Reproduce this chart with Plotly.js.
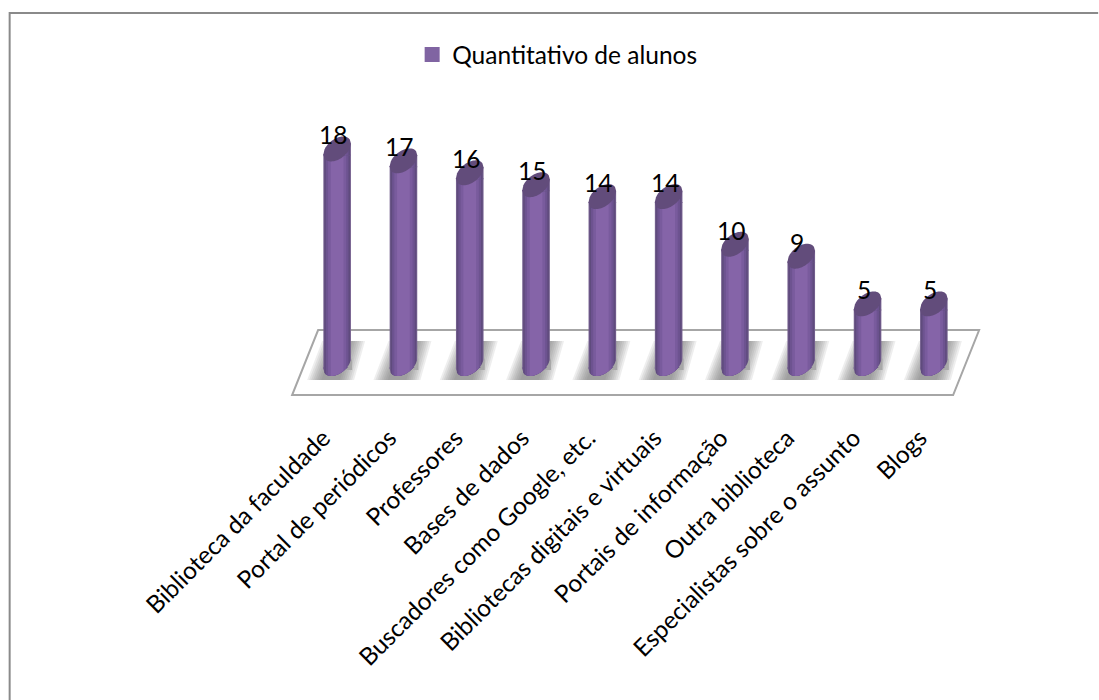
<!DOCTYPE html>
<html>
<head>
<meta charset="utf-8">
<script src="https://cdn.plot.ly/plotly-3.0.1.min.js"></script>
<style>html,body{margin:0;padding:0;background:#fff}</style>
</head>
<body>
<div id="chart" style="width:1099px;height:700px"></div>
<script>
const categories = ["Biblioteca da faculdade","Portal de periódicos","Professores","Bases de dados","Buscadores como Google, etc.","Bibliotecas digitais e virtuais","Portais de informação","Outra biblioteca","Especialistas sobre o assunto","Blogs"];
const values = [18,17,16,15,14,14,10,9,5,5];
const seriesName = "Quantitativo de alunos";
const barColor = "#8064a2";
const capColor = "#624c7b";
const stripWidths = [1.0,0.93,0.82,0.66,0.46];
const stripColors = ["#75608f","#5f4b7d","#6d5390","#795b9d","#8564a8"];

const L=303.85, W=663, T=100, H=318;
const pxPerX=W/10, pxPerY=11.92;
const zeroPx=369;
const yMin=-(T+H-zeroPx)/pxPerY, yMax=(zeroPx-T)/pxPerY;
const halfBar=13.8, capB=11.2, capK=5.5;
const dx=p=>p/pxPerX, dy=p=>p/pxPerY;
const paperX=p=>(p-L)/W, paperY=p=>1-(p-T)/H;
const poly=pts=>"M"+pts.map(p=>p[0].toFixed(4)+" "+p[1].toFixed(4)).join("L")+"Z";
const polyPaper=pts=>poly(pts.map(p=>[paperX(p[0]),paperY(p[1])]));
const lowerOff=x=>-capK*x/halfBar+capB*Math.sqrt(Math.max(0,1-(x/halfBar)*(x/halfBar)));
const upperOff=x=>-capK*x/halfBar-capB*Math.sqrt(Math.max(0,1-(x/halfBar)*(x/halfBar)));
const samples=n=>Array.from({length:n+1},(_,i)=>-1+2*i/n);

const shapes=[];
// floor
shapes.push({type:"path",xref:"paper",yref:"paper",layer:"below",path:polyPaper([[318,330],[979,330],[953,395],[292,395]]),fillcolor:"#ffffff",line:{color:"#a6a6a6",width:2}});
// floor shadows
const shadowInsets=[0,2,4,6,8,10,12,14];
categories.forEach((c,i)=>{
  const cx=337+i*pxPerX;
  shadowInsets.forEach(ins=>{
    shapes.push({type:"path",xref:"paper",yref:"paper",layer:"below",opacity:0.115,
      path:polyPaper([[cx-30+ins,380],[cx+17-ins,380],[cx+28-ins,341],[cx-15+ins,341]]),
      fillcolor:"#666666",line:{width:0}});
  });
});
// frame
shapes.push({type:"line",xref:"paper",yref:"paper",x0:paperX(9.5),x1:paperX(9.5),y0:paperY(12),y1:paperY(700),line:{color:"#8a8a8a",width:2}});
shapes.push({type:"line",xref:"paper",yref:"paper",x0:paperX(9),x1:paperX(1098),y0:paperY(13),y1:paperY(13),line:{color:"#8a8a8a",width:2}});

values.forEach((v,i)=>{
  // bottom-right corner mask
  const xs0=[];
  for(let x=6;x<=halfBar;x+=0.8){xs0.push(x);}
  const corner=xs0.filter(x=>lowerOff(x)<capK).map(x=>[x,lowerOff(x)]);
  if(corner.length){
    const first=corner[0][0];
    const pts=corner.concat([[halfBar+1.2,lowerOff(halfBar)],[halfBar+1.2,capK+1],[first,capK+1]]);
    shapes.push({type:"path",xref:"x",yref:"y",layer:"above",path:poly(pts.map(p=>[i+dx(p[0]),dy(capK-p[1])])),fillcolor:"#a8a8a8",line:{width:0}});
  }
  // rounded bottom and the band under each cap, one per gradient strip
  stripWidths.forEach((f,k)=>{
    const w=halfBar*f;
    const low=samples(16).map(t=>{const x=t*w;return [x,Math.max(lowerOff(x),capK-2)];});
    const basePts=[[-w,capK-2],[w,capK-2]].concat(low.slice().reverse());
    shapes.push({type:"path",xref:"x",yref:"y",layer:"above",path:poly(basePts.map(p=>[i+dx(p[0]),dy(capK-p[1])])),fillcolor:stripColors[k],line:{width:0}});
    const bandPts=[[-w,1],[w,1],[w,-capK*(1+w/halfBar)],[-w,-capK*(1-w/halfBar)]];
    shapes.push({type:"path",xref:"x",yref:"y",layer:"above",path:poly(bandPts.map(p=>[i+dx(p[0]),v-dy(p[1])])),fillcolor:stripColors[k],line:{width:0}});
  });
  // top cap
  const cap=[];
  samples(24).forEach(t=>{const x=t*halfBar;cap.push([x,lowerOff(x)]);});
  samples(24).reverse().forEach(t=>{const x=t*halfBar;cap.push([x,upperOff(x)]);});
  shapes.push({type:"path",xref:"x",yref:"y",layer:"above",path:poly(cap.map(p=>[i+dx(p[0]),v+dy(capK-p[1])])),fillcolor:capColor,line:{width:0}});
});

const traces=stripWidths.map((f,k)=>({
  type:"bar",x:categories,y:values,name:seriesName,showlegend:false,hoverinfo:"skip",
  width:categories.map(()=>2*halfBar*f/pxPerX),
  marker:{color:stripColors[k],line:{width:0}}
}));
traces.push({type:"scatter",mode:"markers",x:categories,y:categories.map(()=>null),name:seriesName,
  marker:{symbol:"square",size:15,color:barColor,line:{width:0}},showlegend:true});

const annotations=values.map((v,i)=>({
  x:categories[i],y:v,xref:"x",yref:"y",text:String(v),showarrow:false,
  xshift:-4,yshift:capK+14,font:{family:"Lato, sans-serif",size:24.5,color:"#000"},xanchor:"center",yanchor:"middle"
}));

const layout={
  width:1099,height:700,autosize:false,
  margin:{l:L,r:1099-L-W,t:T,b:700-T-H,pad:0},
  paper_bgcolor:"#fff",plot_bgcolor:"rgba(0,0,0,0)",
  barmode:"overlay",
  showlegend:true,
  legend:{orientation:"h",x:paperX(412),xanchor:"left",y:paperY(32),yanchor:"top",bgcolor:"rgba(0,0,0,0)",font:{family:"Lato, sans-serif",size:24.5,color:"#000"}},
  xaxis:{type:"category",categoryorder:"array",categoryarray:categories,range:[-0.5,9.5],tickangle:-45,showgrid:false,showline:false,zeroline:false,ticks:"",ticklen:0,ticklabelshift:-14,
    tickfont:{family:"Lato, sans-serif",size:24.4,color:"#000"},automargin:false},
  yaxis:{range:[yMin,yMax],visible:false,showgrid:false,zeroline:false},
  shapes,annotations
};
Plotly.newPlot("chart",traces,layout,{displayModeBar:false,staticPlot:true});
</script>
</body>
</html>
